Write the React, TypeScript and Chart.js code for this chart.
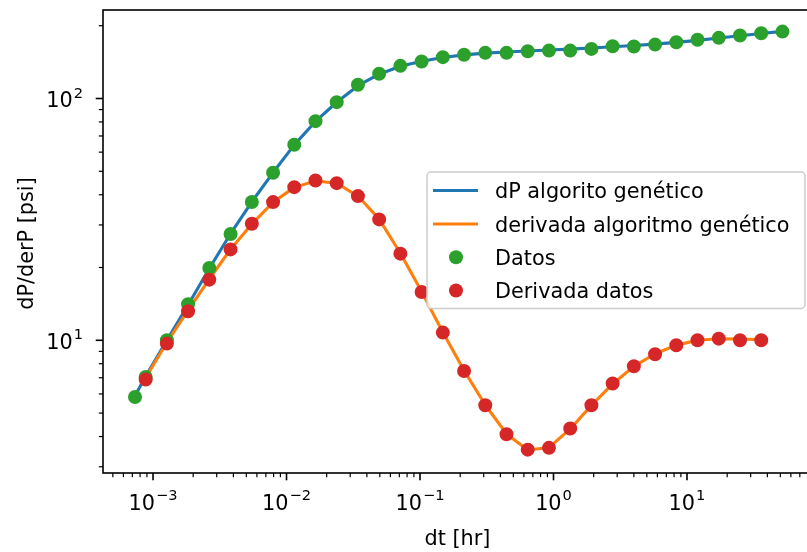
import React, { useEffect, useRef } from 'react';
import { Chart, registerables } from 'chart.js';

Chart.register(...registerables);

// ---------- data ----------
const dtDatos = [0.000733, 0.000881, 0.00127, 0.00183, 0.00264, 0.00381, 0.0055, 0.00793, 0.01143, 0.01648, 0.02377, 0.03428, 0.04943, 0.07129, 0.1028, 0.1483, 0.2138, 0.3083, 0.4446, 0.6412, 0.9247, 1.334, 1.923, 2.773, 3.999, 5.768, 8.318, 11.99, 17.3, 24.95, 35.97, 51.88];
const datos = [5.83, 7.05, 10.0, 14.09, 19.9, 27.5, 37.3, 49.3, 64.4, 80.6, 96.6, 114.0, 126.5, 136.5, 142.2, 148.3, 151.6, 154.5, 154.5, 156.8, 157.8, 157.8, 160.4, 164.4, 164.0, 167.1, 170.9, 174.9, 178.2, 182.1, 186.2, 189.1];

const dtDerivada = [0.000881, 0.00127, 0.00183, 0.00264, 0.00381, 0.0055, 0.00793, 0.01143, 0.01648, 0.02377, 0.03428, 0.04943, 0.07129, 0.1028, 0.1483, 0.2138, 0.3083, 0.4446, 0.6412, 0.9247, 1.334, 1.923, 2.773, 3.999, 5.768, 8.318, 11.99, 17.3, 24.95, 35.97];
const derivadaDatos = [6.88, 9.69, 13.18, 17.82, 23.77, 30.35, 37.29, 43.0, 45.83, 44.67, 39.48, 31.62, 22.82, 15.83, 10.76, 7.47, 5.39, 4.09, 3.53, 3.59, 4.32, 5.39, 6.63, 7.81, 8.75, 9.54, 10.0, 10.16, 10.0, 10.0];

const dtModelo = [0.000733, 0.000881, 0.00127, 0.00183, 0.00264, 0.00381, 0.0055, 0.00793, 0.01143, 0.01648, 0.02377, 0.03428, 0.04943, 0.07129, 0.1028, 0.1483, 0.2138, 0.3083, 0.4446, 0.6412, 0.9247, 1.334, 1.923, 2.773, 3.999, 5.768, 8.318, 11.99, 17.3, 24.95, 35.97, 51.88];
const dpModelo = [5.9, 7.1, 10.0, 14.0, 19.8, 27.6, 37.4, 49.4, 64.3, 80.4, 96.5, 113.0, 126.0, 136.0, 142.5, 147.8, 151.5, 154.0, 155.8, 157.2, 158.6, 160.0, 161.8, 163.6, 165.6, 167.9, 170.6, 174.0, 177.8, 181.8, 185.8, 189.5];

const dtDerivModelo = [0.000881, 0.00127, 0.00183, 0.00264, 0.00381, 0.0055, 0.00793, 0.01143, 0.01648, 0.02377, 0.03428, 0.04943, 0.07129, 0.1028, 0.1483, 0.2138, 0.3083, 0.4446, 0.6412, 0.9247, 1.334, 1.923, 2.773, 3.999, 5.768, 8.318, 11.99, 17.3, 24.95, 35.97];
const derivModelo = [7.0, 9.8, 13.3, 17.9, 23.8, 30.3, 37.2, 42.9, 45.6, 44.6, 39.5, 31.7, 22.9, 15.9, 10.8, 7.5, 5.4, 4.1, 3.52, 3.6, 4.3, 5.38, 6.6, 7.8, 8.8, 9.55, 10.0, 10.15, 10.12, 10.05];

const xMajorExps = [-3, -2, -1, 0, 1];
const yMajorExps = [1, 2];
const seriesLabels = ['dP algorito genético', 'derivada algoritmo genético', 'Datos', 'Derivada datos'];
const seriesColors = ['#1f77b4', '#ff7f0e', '#2ca02c', '#d62728'];
const xTitle = 'dt [hr]';
const yTitle = 'dP/derP [psi]';

// ---------- layout / style ----------
const W = 807;
const H = 552;
const CANVAS_W = 830;
const AREA = { left: 103, top: 10, right: 815, bottom: 473 };
const X_MIN = 4.22e-4;
const X_MAX = 90.96;
const Y_MIN = 2.826;
const Y_MAX = 232.3;
const FONT = '"DejaVu Sans", sans-serif';
const FS = 20.8;
const SFS = 14.6;
const LW = 3.1;

function drawPow(ctx: CanvasRenderingContext2D, exp: number, x: number, baseline: number, align: 'center' | 'right') {
  const base = '10';
  const sup = exp < 0 ? '\u2212' + String(-exp) : String(exp);
  ctx.font = `${FS}px ${FONT}`;
  const wb = ctx.measureText(base).width;
  ctx.font = `${SFS}px ${FONT}`;
  const ws = ctx.measureText(sup).width;
  const gap = 1;
  const total = wb + gap + ws;
  const left = align === 'center' ? x - total / 2 : x - total;
  ctx.textAlign = 'left';
  ctx.textBaseline = 'alphabetic';
  ctx.fillStyle = '#000';
  ctx.font = `${FS}px ${FONT}`;
  ctx.fillText(base, left, baseline);
  ctx.font = `${SFS}px ${FONT}`;
  ctx.fillText(sup, left + wb + gap, baseline - 9.5);
}

const axesPlugin = {
  id: 'mplAxes',
  afterDraw(chart: any) {
    const ctx: CanvasRenderingContext2D = chart.ctx;
    const a = chart.chartArea;
    const xs = chart.scales.x;
    const ys = chart.scales.y;
    ctx.save();

    // spines
    ctx.strokeStyle = '#000';
    ctx.lineWidth = 1.6;
    ctx.strokeRect(a.left, a.top, a.right - a.left, a.bottom - a.top);

    // x ticks
    for (let e = -5; e <= 3; e++) {
      for (let m = 1; m <= 9; m++) {
        const v = m * Math.pow(10, e);
        if (v < xs.min || v > xs.max) continue;
        const px = xs.getPixelForValue(v);
        const major = m === 1;
        ctx.lineWidth = major ? 1.6 : 1.2;
        ctx.beginPath();
        ctx.moveTo(px, a.bottom);
        ctx.lineTo(px, a.bottom + (major ? 7.3 : 4.2));
        ctx.stroke();
      }
    }
    // y ticks
    for (let e = -1; e <= 4; e++) {
      for (let m = 1; m <= 9; m++) {
        const v = m * Math.pow(10, e);
        if (v < ys.min || v > ys.max) continue;
        const py = ys.getPixelForValue(v);
        const major = m === 1;
        ctx.lineWidth = major ? 1.6 : 1.2;
        ctx.beginPath();
        ctx.moveTo(a.left, py);
        ctx.lineTo(a.left - (major ? 7.3 : 4.2), py);
        ctx.stroke();
      }
    }

    // tick labels
    xMajorExps.forEach((e) => {
      const px = xs.getPixelForValue(Math.pow(10, e));
      drawPow(ctx, e, px, a.bottom + 36.5, 'center');
    });
    yMajorExps.forEach((e) => {
      const py = ys.getPixelForValue(Math.pow(10, e));
      drawPow(ctx, e, a.left - 20, py + 8.5, 'right');
    });

    // axis titles
    ctx.fillStyle = '#000';
    ctx.font = `${FS}px ${FONT}`;
    ctx.textAlign = 'center';
    ctx.textBaseline = 'alphabetic';
    ctx.fillText(xTitle, (a.left + a.right) / 2 - 1.5, 545);
    ctx.save();
    ctx.translate(33, (a.top + a.bottom) / 2 + 2);
    ctx.rotate(-Math.PI / 2);
    ctx.fillText(yTitle, 0, 0);
    ctx.restore();

    // legend
    const lw = 378;
    const lh = 136.5;
    const lx = a.right - 10 - lw;
    const ly = 172;
    ctx.beginPath();
    const r = 4;
    ctx.moveTo(lx + r, ly);
    ctx.lineTo(lx + lw - r, ly);
    ctx.arcTo(lx + lw, ly, lx + lw, ly + r, r);
    ctx.lineTo(lx + lw, ly + lh - r);
    ctx.arcTo(lx + lw, ly + lh, lx + lw - r, ly + lh, r);
    ctx.lineTo(lx + r, ly + lh);
    ctx.arcTo(lx, ly + lh, lx, ly + lh - r, r);
    ctx.lineTo(lx, ly + r);
    ctx.arcTo(lx, ly, lx + r, ly, r);
    ctx.closePath();
    ctx.fillStyle = 'rgba(255,255,255,0.8)';
    ctx.fill();
    ctx.strokeStyle = '#cccccc';
    ctx.lineWidth = 1.5;
    ctx.stroke();

    const rowsY = [190.5, 224, 257.3, 290.5];
    seriesLabels.forEach((label, i) => {
      const y = rowsY[i];
      if (i < 2) {
        ctx.strokeStyle = seriesColors[i];
        ctx.lineWidth = LW;
        ctx.beginPath();
        ctx.moveTo(lx + 6, y);
        ctx.lineTo(lx + 51, y);
        ctx.stroke();
      } else {
        ctx.fillStyle = seriesColors[i];
        ctx.beginPath();
        ctx.arc(lx + 29, y, 7, 0, Math.PI * 2);
        ctx.fill();
      }
      ctx.fillStyle = '#000';
      ctx.font = `${FS}px ${FONT}`;
      ctx.textAlign = 'left';
      ctx.textBaseline = 'alphabetic';
      ctx.fillText(label, lx + 68, y + 7.5);
    });

    ctx.restore();
  },
};

function toPoints(xs: number[], ys: number[]) {
  return xs.map((x, i) => ({ x, y: ys[i] }));
}

export default function App() {
  const ref = useRef<HTMLCanvasElement | null>(null);

  useEffect(() => {
    if (!ref.current) return;
    const chart = new Chart(ref.current, {
      type: 'scatter',
      data: {
        datasets: [
          {
            label: seriesLabels[0],
            data: toPoints(dtModelo, dpModelo),
            showLine: true,
            borderColor: seriesColors[0],
            backgroundColor: seriesColors[0],
            borderWidth: LW,
            pointRadius: 0,
            borderJoinStyle: 'round',
            order: 4,
          },
          {
            label: seriesLabels[1],
            data: toPoints(dtDerivModelo, derivModelo),
            showLine: true,
            borderColor: seriesColors[1],
            backgroundColor: seriesColors[1],
            borderWidth: LW,
            pointRadius: 0,
            borderJoinStyle: 'round',
            order: 3,
          },
          {
            label: seriesLabels[2],
            data: toPoints(dtDatos, datos),
            showLine: false,
            borderColor: seriesColors[2],
            backgroundColor: seriesColors[2],
            borderWidth: 2,
            pointRadius: 6,
            order: 2,
          },
          {
            label: seriesLabels[3],
            data: toPoints(dtDerivada, derivadaDatos),
            showLine: false,
            borderColor: seriesColors[3],
            backgroundColor: seriesColors[3],
            borderWidth: 2,
            pointRadius: 6,
            order: 1,
          },
        ],
      },
      options: {
        responsive: false,
        maintainAspectRatio: false,
        animation: false,
        devicePixelRatio: 1,
        events: [],
        layout: {
          padding: {
            left: AREA.left,
            top: AREA.top,
            right: CANVAS_W - AREA.right,
            bottom: H - AREA.bottom,
          },
        },
        scales: {
          x: { type: 'logarithmic', display: false, min: X_MIN, max: X_MAX, bounds: 'data' },
          y: { type: 'logarithmic', display: false, min: Y_MIN, max: Y_MAX, bounds: 'data' },
        },
        plugins: {
          legend: { display: false },
          tooltip: { enabled: false },
        },
      },
      plugins: [axesPlugin],
    } as any);
    return () => chart.destroy();
  }, []);

  return (
    <div style={{ position: 'absolute', left: 0, top: 0, width: W, height: H, overflow: 'hidden', background: '#fff' }}>
      <canvas ref={ref} width={CANVAS_W} height={H} style={{ display: 'block', width: CANVAS_W, height: H }} />
    </div>
  );
}
